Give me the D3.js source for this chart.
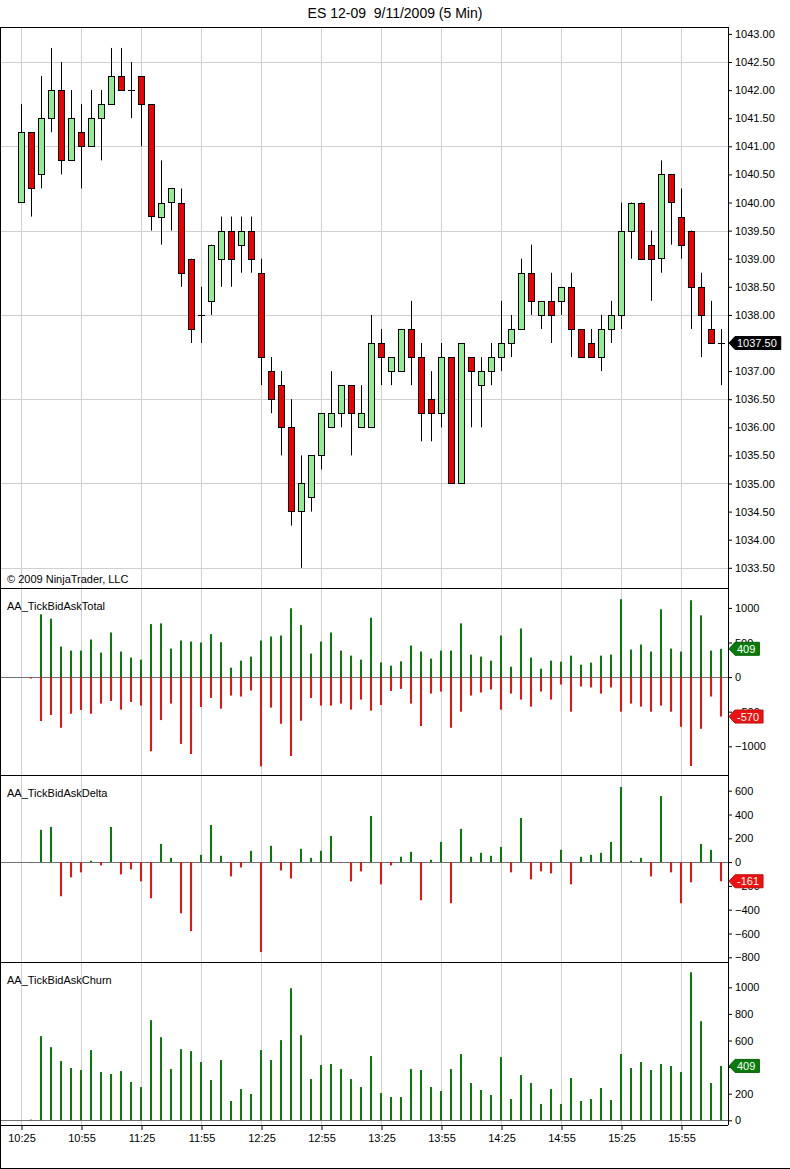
<!DOCTYPE html>
<html>
<head>
<meta charset="utf-8">
<script src="https://cdn.jsdelivr.net/npm/d3@7"></script>
<style>
  body { margin: 0; background: #fff; }
  text { font-family: "Liberation Sans", Arial, sans-serif; }
</style>
</head>
<body>
<div id="chart"></div>
<script>
var title = "ES 12-09  9/11/2009 (5 Min)";

var times = ["10:25","10:30","10:35","10:40","10:45","10:50","10:55",
  "11:00","11:05","11:10","11:15","11:20","11:25","11:30","11:35","11:40","11:45","11:50","11:55",
  "12:00","12:05","12:10","12:15","12:20","12:25","12:30","12:35","12:40","12:45","12:50","12:55",
  "13:00","13:05","13:10","13:15","13:20","13:25","13:30","13:35","13:40","13:45","13:50","13:55",
  "14:00","14:05","14:10","14:15","14:20","14:25","14:30","14:35","14:40","14:45","14:50","14:55",
  "15:00","15:05","15:10","15:15","15:20","15:25","15:30","15:35","15:40","15:45","15:50","15:55",
  "16:00","16:05","16:10","16:15"];

var open = [1040.00,1041.25,1040.50,1041.50,1042.00,1040.75,1041.25,1041.00,1041.50,1041.75,
  1042.25,1042.00,1042.25,1041.75,1039.75,1040.00,1040.00,1039.00,1038.00,1038.25,
  1039.00,1039.50,1039.25,1039.50,1038.75,1037.00,1036.75,1036.00,1034.50,1034.75,
  1035.50,1036.00,1036.25,1036.75,1036.00,1036.00,1037.50,1037.00,1037.00,1037.75,
  1037.25,1036.50,1036.25,1037.25,1035.00,1037.25,1036.75,1037.00,1037.25,1037.50,
  1037.75,1038.75,1038.00,1038.25,1038.25,1038.50,1037.75,1037.50,1037.25,1037.75,
  1038.00,1039.50,1040.00,1039.25,1039.00,1040.50,1039.75,1039.50,1038.50,1037.75,
  1037.50];
var high = [1041.75,1041.25,1042.25,1042.75,1042.50,1042.00,1041.75,1042.00,1042.00,1042.75,
  1042.75,1042.50,1042.25,1041.75,1040.75,1040.25,1040.25,1039.00,1038.50,1039.25,
  1039.75,1039.75,1039.75,1039.75,1039.00,1037.25,1037.00,1036.50,1035.50,1035.50,
  1036.25,1037.00,1036.75,1036.75,1036.75,1038.00,1037.75,1037.25,1037.75,1038.25,
  1037.50,1037.00,1037.50,1037.25,1037.50,1037.25,1037.25,1037.50,1038.25,1038.00,
  1039.00,1039.25,1038.25,1038.75,1038.50,1038.75,1037.75,1037.75,1038.00,1038.25,
  1040.00,1040.00,1040.00,1039.50,1040.75,1040.50,1040.25,1039.50,1038.75,1038.25,
  1037.75];
var low = [1040.00,1039.75,1040.25,1041.25,1040.50,1040.75,1040.25,1041.00,1040.75,1041.75,
  1042.00,1041.50,1041.00,1039.50,1039.25,1039.50,1038.50,1037.50,1037.50,1038.00,
  1038.50,1038.50,1038.75,1038.75,1036.75,1036.25,1035.50,1034.25,1033.50,1034.50,
  1035.25,1036.00,1036.00,1035.50,1036.00,1036.00,1036.75,1036.75,1037.00,1036.75,
  1035.75,1035.75,1036.00,1035.00,1035.00,1036.00,1036.00,1036.75,1037.00,1037.25,
  1037.75,1038.00,1037.75,1037.50,1038.00,1037.25,1037.25,1037.25,1037.00,1037.50,
  1037.75,1039.00,1039.00,1038.25,1038.75,1039.25,1039.00,1037.75,1037.25,1037.50,
  1036.75];
var close = [1041.25,1040.25,1041.50,1042.00,1040.75,1041.50,1041.00,1041.50,1041.75,1042.25,
  1042.00,1042.00,1041.75,1039.75,1040.00,1040.25,1038.75,1037.75,1038.00,1039.25,
  1039.50,1039.00,1039.50,1039.00,1037.25,1036.50,1036.00,1034.50,1035.00,1035.50,
  1036.25,1036.25,1036.75,1036.25,1036.25,1037.50,1037.25,1037.25,1037.75,1037.25,
  1036.25,1036.25,1037.25,1035.00,1037.50,1037.00,1037.00,1037.25,1037.50,1037.75,
  1038.75,1038.25,1038.25,1038.00,1038.50,1037.75,1037.25,1037.25,1037.75,1038.00,
  1039.50,1040.00,1039.00,1039.00,1040.50,1040.00,1039.25,1038.50,1038.00,1037.50,
  1037.50];

// AA_TickBidAskTotal : ask ticks (up) and bid ticks (down)
var askTotal = [0,0,907,844,441,383,383,543,354,645,
  369,281,252,766,776,412,529,514,500,621,
  504,136,238,296,529,587,601,994,752,340,
  514,645,383,310,252,858,213,165,228,456,
  369,267,383,383,776,325,296,238,601,150,
  703,281,121,238,223,310,179,209,310,325,
  1125,398,470,369,980,412,369,1111,892,383,
  409];
var bidTotal = [0,-20,-635,-548,-732,-529,-475,-529,-383,-344,
  -470,-359,-412,-1072,-621,-383,-965,-1111,-432,-301,
  -456,-267,-281,-194,-1290,-441,-674,-1140,-631,-301,
  -412,-412,-383,-470,-325,-485,-403,-199,-170,-383,
  -708,-238,-209,-732,-500,-267,-223,-179,-470,-238,
  -325,-427,-209,-325,-107,-500,-136,-150,-238,-150,
  -500,-383,-427,-500,-412,-500,-718,-1285,-747,-281,
  -570];
var delta = [0,-3,271,296,-287,-128,-86,11,-28,296,
  -103,-61,-162,-304,153,36,-430,-580,61,312,
  53,-120,-45,95,-756,137,-70,-137,112,36,
  95,220,-5,-162,-78,388,-187,-28,45,86,
  -321,20,170,-346,279,45,78,53,128,-86,
  371,-145,-78,-95,103,-187,45,61,78,170,
  631,11,36,-120,555,-86,-346,-170,153,103,
  -161];
var churn = [0,5,633,550,445,393,378,528,363,348,
  370,288,250,753,625,385,535,520,438,303,
  453,145,235,198,528,453,603,993,640,310,
  415,423,385,310,250,483,205,175,175,385,
  378,250,220,385,498,280,228,190,475,160,
  340,280,123,235,123,318,145,160,243,153,
  498,393,438,378,423,408,363,1113,745,280,
  409];

var priceTicks = [1033.5,1034,1034.5,1035,1035.5,1036,1036.5,1037,1037.5,1038,
  1038.5,1039,1039.5,1040,1040.5,1041,1041.5,1042,1042.5,1043];
var priceGrid = [1033.5,1035,1036.5,1038,1039.5,1041,1042.5];
var totalTicks = [-1000,-500,0,500,1000];
var deltaTicks = [-800,-600,-400,-200,0,200,400,600];
var churnTicks = [0,200,400,600,800,1000];
var timeTicks = ["10:25","10:55","11:25","11:55","12:25","12:55","13:25","13:55","14:25","14:55","15:25","15:55"];

/////////////////////////////////////////////////////////////

var width = 790, height = 1169;
var axisX = 728;
var panels = { top: 27, p1: 588, p2: 775, p3: 962, bottom: 1125 };

var svg = d3.select("#chart")
  .append("svg")
  .attr("width", width)
  .attr("height", height);

var bars = times.map(function (t, i) {
  return { t: t, o: open[i], h: high[i], l: low[i], c: close[i],
    ask: askTotal[i], bid: bidTotal[i], delta: delta[i], churn: churn[i] };
});

var x = d3.scalePoint().domain(times).range([21.5, 721.5]);
var yPrice = d3.scaleLinear().domain([1033.5, 1042.5]).range([567.8, 62]);
var yTotal = d3.scaleLinear().domain([-1000, 1000]).range([746.3, 607.9]);
var yDelta = d3.scaleLinear().domain([-800, 600]).range([957.3, 790.7]);
var yChurn = d3.scaleLinear().domain([0, 1000]).range([1120.3, 987.3]);

/// gridlines ///
svg.append("g")
  .selectAll("line")
  .data(timeTicks)
  .join("line")
  .attr("x1", d => x(d)).attr("x2", d => x(d))
  .attr("y1", panels.top).attr("y2", panels.bottom)
  .attr("stroke", "#d0d0d0");

svg.append("g")
  .selectAll("line")
  .data(priceGrid)
  .join("line")
  .attr("x1", 0).attr("x2", axisX)
  .attr("y1", d => Math.round(yPrice(d)) + 0.5).attr("y2", d => Math.round(yPrice(d)) + 0.5)
  .attr("stroke", "#d0d0d0");

// zero lines of the indicator panels
[yTotal, yDelta, yChurn].forEach(function (s) {
  svg.append("line")
    .attr("x1", 1).attr("x2", axisX)
    .attr("y1", Math.round(s(0)) + 0.5).attr("y2", Math.round(s(0)) + 0.5)
    .attr("stroke", "#707070");
});

/// candles ///
var candles = svg.append("g");

candles.selectAll("line.wick")
  .data(bars)
  .join("line")
  .attr("class", "wick")
  .attr("x1", d => x(d.t)).attr("x2", d => x(d.t))
  .attr("y1", d => yPrice(d.h)).attr("y2", d => yPrice(d.l))
  .attr("stroke", "black");

candles.selectAll("rect")
  .data(bars.filter(d => d.o !== d.c))
  .join("rect")
  .attr("x", d => x(d.t) - 3)
  .attr("width", 6)
  .attr("y", d => Math.round(yPrice(Math.max(d.o, d.c))) + 0.5)
  .attr("height", d => Math.round(Math.abs(yPrice(d.o) - yPrice(d.c))))
  .attr("fill", d => d.c > d.o ? "#90ee90" : "#ee0000")
  .attr("stroke", "black");

candles.selectAll("line.doji")
  .data(bars.filter(d => d.o === d.c))
  .join("line")
  .attr("class", "doji")
  .attr("x1", d => x(d.t) - 3.5).attr("x2", d => x(d.t) + 3.5)
  .attr("y1", d => Math.round(yPrice(d.c)) + 0.5).attr("y2", d => Math.round(yPrice(d.c)) + 0.5)
  .attr("stroke", "black");

/// indicator histograms ///
function histogram(values, y, color) {
  svg.append("g")
    .selectAll("rect")
    .data(values)
    .join("rect")
    .attr("x", (d, i) => x(times[i]) - 1.5)
    .attr("width", 2)
    .attr("y", d => Math.min(y(0), y(d)))
    .attr("height", d => Math.abs(y(d) - y(0)))
    .attr("fill", color);
}

histogram(askTotal, yTotal, "#0a7a0a");
histogram(bidTotal, yTotal, "#ee1111");
histogram(delta, yDelta, d => d >= 0 ? "#0a7a0a" : "#ee1111");
histogram(churn, yChurn, "#0a7a0a");

/// frames ///
var frame = svg.append("g").attr("stroke", "black").attr("shape-rendering", "crispEdges");
frame.append("line").attr("x1", 0).attr("x2", axisX).attr("y1", panels.top).attr("y2", panels.top);
[panels.p1, panels.p2, panels.p3].forEach(function (py) {
  frame.append("line").attr("x1", 0).attr("x2", axisX).attr("y1", py).attr("y2", py);
});
frame.append("line").attr("x1", 0).attr("x2", axisX).attr("y1", panels.bottom).attr("y2", panels.bottom);
frame.append("line").attr("x1", axisX).attr("x2", axisX).attr("y1", panels.top).attr("y2", panels.bottom);
frame.append("line").attr("x1", 0.5).attr("x2", 0.5).attr("y1", panels.top).attr("y2", height - 1);
frame.append("line").attr("x1", 0).attr("x2", width).attr("y1", height - 1).attr("y2", height - 1);

/// axes ///
function rightAxis(scale, ticks, fmt) {
  svg.append("g")
    .attr("transform", "translate(" + axisX + ",0)")
    .call(d3.axisRight(scale).tickValues(ticks).tickFormat(fmt).tickSize(4).tickPadding(3))
    .call(g => g.select(".domain").remove())
    .attr("font-size", 11)
    .attr("font-family", "Liberation Sans, Arial, sans-serif");
}

rightAxis(yPrice, priceTicks, d3.format(".2f"));
rightAxis(yTotal, totalTicks, d3.format("d"));
rightAxis(yDelta, deltaTicks, d3.format("d"));
rightAxis(yChurn, churnTicks, d3.format("d"));

svg.append("g")
  .attr("transform", "translate(0," + panels.bottom + ")")
  .call(d3.axisBottom(x).tickValues(timeTicks).tickSize(5).tickPadding(4))
  .call(g => g.select(".domain").remove())
  .attr("font-size", 11)
  .attr("font-family", "Liberation Sans, Arial, sans-serif");

/// last value tags ///
function tag(y, label, fill) {
  var g = svg.append("g").attr("transform", "translate(" + (axisX + 1) + "," + y + ")");
  var t = g.append("text")
    .attr("x", 8)
    .attr("dy", "0.36em")
    .attr("fill", "white")
    .attr("font-size", 11)
    .text(label);
  var w = t.node().getComputedTextLength();
  g.insert("path", "text")
    .attr("d", "M0,0 L6,-6.5 H" + (w + 12) + " V6.5 H6 Z")
    .attr("fill", fill)
    .attr("stroke", fill === "black" ? "black" : d3.color(fill).darker(0.6));
}

var last = bars[bars.length - 1];
tag(yPrice(last.c), d3.format(".2f")(last.c), "black");
tag(yTotal(last.ask), last.ask, "#0a7a0a");
tag(yTotal(last.bid), last.bid, "#ee1111");
tag(yDelta(last.delta), last.delta, last.delta >= 0 ? "#0a7a0a" : "#ee1111");
tag(yChurn(last.churn), last.churn, "#0a7a0a");

/// texts ///
svg.append("text")
  .attr("x", width / 2)
  .attr("y", 18)
  .attr("text-anchor", "middle")
  .attr("font-size", 14)
  .style("white-space", "pre")
  .text(title);

var labels = [
  { y: 583, text: "\u00a9 2009 NinjaTrader, LLC" },
  { y: 610, text: "AA_TickBidAskTotal" },
  { y: 797, text: "AA_TickBidAskDelta" },
  { y: 984, text: "AA_TickBidAskChurn" }
];
svg.append("g")
  .selectAll("text")
  .data(labels)
  .join("text")
  .attr("x", 7)
  .attr("y", d => d.y)
  .attr("font-size", 11)
  .text(d => d.text);
</script>
</body>
</html>
